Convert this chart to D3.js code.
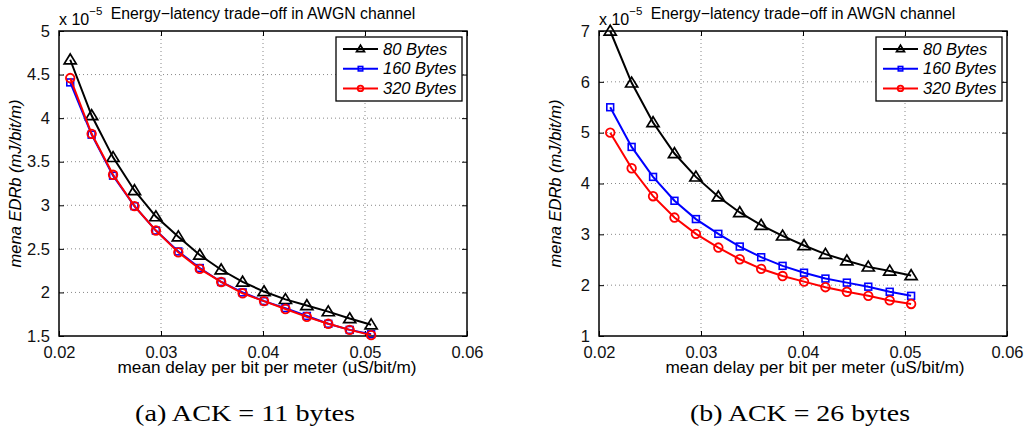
<!DOCTYPE html>
<html>
<head>
<meta charset="utf-8">
<script src="https://cdn.jsdelivr.net/npm/d3@7"></script>
<style>
  body { margin: 0; background: #fff; }
  svg { display: block; font-family: "Liberation Sans", Arial, sans-serif; }
</style>
</head>
<body>
<svg id="chart" width="1024" height="430"></svg>
<script>
// delay per bit per meter (uS/bit/m), same points in both panels
const delay = [0.0211, 0.0232, 0.0253, 0.0274, 0.0295, 0.0317, 0.0338, 0.0359,
               0.0380, 0.0401, 0.0422, 0.0443, 0.0464, 0.0485, 0.0506];

// panel (a) ACK = 11 bytes, EDRb x 1e-5
const a80  = [4.67, 4.03, 3.55, 3.17, 2.87, 2.64, 2.43, 2.26, 2.12, 2.01, 1.92, 1.85, 1.78, 1.70, 1.63];
const a160 = [4.41, 3.81, 3.34, 2.99, 2.71, 2.47, 2.28, 2.12, 2.00, 1.90, 1.82, 1.73, 1.64, 1.57, 1.52];
const a320 = [4.46, 3.82, 3.35, 2.99, 2.71, 2.46, 2.27, 2.12, 1.99, 1.90, 1.81, 1.72, 1.64, 1.57, 1.51];

// panel (b) ACK = 26 bytes
const b80  = [7.00, 5.98, 5.20, 4.59, 4.13, 3.74, 3.43, 3.18, 2.97, 2.78, 2.61, 2.48, 2.36, 2.28, 2.19];
const b160 = [5.50, 4.72, 4.13, 3.66, 3.30, 3.01, 2.76, 2.55, 2.38, 2.245, 2.13, 2.05, 1.97, 1.87, 1.79];
const b320 = [5.00, 4.30, 3.75, 3.33, 3.01, 2.74, 2.51, 2.32, 2.18, 2.07, 1.96, 1.87, 1.79, 1.70, 1.63];

const seriesNames = ["80 Bytes", "160 Bytes", "320 Bytes"];
const xTicks = [0.02, 0.03, 0.04, 0.05, 0.06];
const yTicksA = [1.5, 2, 2.5, 3, 3.5, 4, 4.5, 5];
const yTicksB = [1, 2, 3, 4, 5, 6, 7];

const colors = ["#000000", "#0000ff", "#ff0000"];
const shapes = ["tri", "sq", "circ"];

const svg = d3.select("#chart");
const plotW = 408, plotTop = 31, plotBottom = 336;
const sans = "Liberation Sans, Arial, sans-serif";

function marker(sel, shape, color, s) {
  if (shape === "tri") {
    sel.append("path")
      .attr("d", `M0,${-s * 1.05} L${s * 1.1},${s * 0.75} L${-s * 1.1},${s * 0.75} Z`)
      .attr("fill", "none").attr("stroke", color).attr("stroke-width", 1.7);
  } else if (shape === "sq") {
    const h = s * 0.62;
    sel.append("rect").attr("x", -h).attr("y", -h).attr("width", 2 * h).attr("height", 2 * h)
      .attr("fill", "none").attr("stroke", color).attr("stroke-width", 1.6);
  } else {
    sel.append("circle").attr("r", s * 0.78)
      .attr("fill", "none").attr("stroke", color).attr("stroke-width", 1.8);
  }
}

function panel(left, yDomain, yTicks, series, caption, xlabCx, capCx) {
  const g = svg.append("g");
  const x = d3.scaleLinear().domain([0.02, 0.06]).range([left, left + plotW]);
  const y = d3.scaleLinear().domain(yDomain).range([plotBottom, plotTop]);

  // dotted grid
  g.selectAll(".gx").data(xTicks.slice(1, -1)).join("line")
    .attr("x1", d => x(d)).attr("x2", d => x(d))
    .attr("y1", plotTop).attr("y2", plotBottom)
    .attr("stroke", "#888").attr("stroke-width", 1).attr("stroke-dasharray", "1,3");
  g.selectAll(".gy").data(yTicks.slice(1, -1)).join("line")
    .attr("x1", left).attr("x2", left + plotW)
    .attr("y1", d => y(d)).attr("y2", d => y(d))
    .attr("stroke", "#888").attr("stroke-width", 1).attr("stroke-dasharray", "1,3");

  // axes with inward ticks
  const fmt = d => String(d);
  const xAx = g.append("g").attr("transform", `translate(0,${plotBottom})`)
    .call(d3.axisBottom(x).tickValues(xTicks).tickFormat(fmt).tickSizeInner(-5).tickSizeOuter(0).tickPadding(10));
  const xAxTop = g.append("g").attr("transform", `translate(0,${plotTop})`)
    .call(d3.axisTop(x).tickValues(xTicks).tickFormat("").tickSizeInner(-5).tickSizeOuter(0));
  const yAx = g.append("g").attr("transform", `translate(${left},0)`)
    .call(d3.axisLeft(y).tickValues(yTicks).tickFormat(fmt).tickSizeInner(-5).tickSizeOuter(0).tickPadding(9));
  const yAxR = g.append("g").attr("transform", `translate(${left + plotW},0)`)
    .call(d3.axisRight(y).tickValues(yTicks).tickFormat("").tickSizeInner(-5).tickSizeOuter(0));
  [xAx, xAxTop, yAx, yAxR].forEach(a => {
    a.select(".domain").remove();
    a.attr("font-family", sans).attr("font-size", 16.5);
    a.selectAll("line").attr("stroke", "#000");
    a.selectAll("text").attr("fill", "#111");
  });
  g.append("rect").attr("x", left).attr("y", plotTop).attr("width", plotW).attr("height", plotBottom - plotTop)
    .attr("fill", "none").attr("stroke", "#000").attr("stroke-width", 1.5);

  // series
  const line = d3.line().x((d, i) => x(delay[i])).y(d => y(d));
  series.forEach((vals, k) => {
    g.append("path").datum(vals).attr("d", line)
      .attr("fill", "none").attr("stroke", colors[k]).attr("stroke-width", 2);
    g.selectAll(null).data(vals).join("g")
      .attr("transform", (d, i) => `translate(${x(delay[i])},${y(d)})`)
      .each(function () { marker(d3.select(this), shapes[k], colors[k], 5.5); });
  });

  // legend
  const lx = left + plotW - 131, ly = 37;
  g.append("rect").attr("x", lx).attr("y", ly).attr("width", 126).attr("height", 64)
    .attr("fill", "#fff").attr("stroke", "#000").attr("stroke-width", 1.3);
  seriesNames.forEach((name, k) => {
    const cy = ly + 12 + k * 19.7;
    g.append("line").attr("x1", lx + 7).attr("x2", lx + 42).attr("y1", cy).attr("y2", cy)
      .attr("stroke", colors[k]).attr("stroke-width", 2);
    const m = g.append("g").attr("transform", `translate(${lx + 24.5},${cy})`);
    marker(m, shapes[k], colors[k], 3.6);
    g.append("text").attr("x", lx + 47).attr("y", cy + 5.5)
      .attr("font-size", 16.5).attr("font-style", "italic").text(name);
  });

  // exponent and title
  const ex = g.append("text").attr("x", left).attr("y", 25).attr("font-size", 16);
  ex.append("tspan").text("x 10");
  ex.append("tspan").attr("dy", -10).attr("font-size", 11.5).text("\u22125");
  g.append("text").attr("x", left + plotW / 2).attr("y", 19).attr("text-anchor", "middle")
    .attr("font-size", 15.8).text("Energy\u2212latency trade\u2212off in AWGN channel");

  // axis labels
  g.append("text").attr("transform", `translate(${left - 38},${(plotTop + plotBottom) / 2}) rotate(-90)`)
    .attr("text-anchor", "middle").attr("font-size", 16.5).attr("font-style", "italic")
    .text("mena EDRb (mJ/bit/m)");
  g.append("text").attr("x", xlabCx).attr("y", 373).attr("text-anchor", "middle")
    .attr("font-size", 16).attr("textLength", 299).attr("lengthAdjust", "spacingAndGlyphs")
    .text("mean delay per bit per meter (uS/bit/m)");

  // caption
  g.append("text").attr("x", capCx).attr("y", 421).attr("text-anchor", "middle")
    .attr("font-family", "Liberation Serif, serif").attr("font-size", 24)
    .attr("textLength", 220).attr("lengthAdjust", "spacingAndGlyphs")
    .text(caption);
}

panel(59, [1.5, 5], yTicksA, [a80, a160, a320], "(a) ACK = 11 bytes", 267, 245);
panel(599, [1, 7], yTicksB, [b80, b160, b320], "(b) ACK = 26 bytes", 815, 800);
</script>
</body>
</html>
